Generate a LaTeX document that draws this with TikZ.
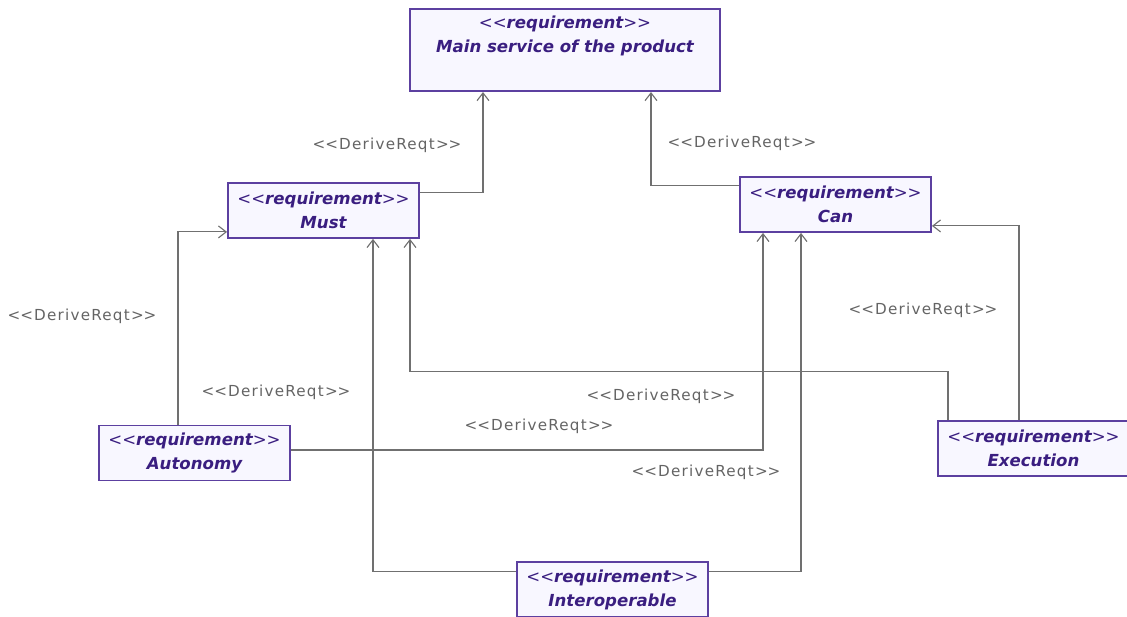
\documentclass[tikz,border=0pt]{standalone}
\usepackage{fontspec}
\usetikzlibrary{arrows.meta}
\newfontfamily\reqfont{DejaVu Sans}
\newfontfamily\lblfont{DejaVu Sans}[LetterSpace=8]
\definecolor{reqborder}{RGB}{92,64,160}
\definecolor{reqfill}{RGB}{248,247,255}
\definecolor{reqtext}{RGB}{58,30,128}
\definecolor{linkgray}{RGB}{112,112,112}
\definecolor{lblgray}{RGB}{100,100,100}
\newcommand{\stereo}{{\mdseries<\kern0pt<}requirement{\mdseries>\kern0pt>}}
\newcommand{\derive}{<\kern0pt<DeriveReqt>\kern0pt>}
\tikzset{
  req/.style={draw=reqborder,line width=1.3pt,fill=reqfill,text=reqtext,
    font=\reqfont\bfseries\itshape\fontsize{11.8}{17}\selectfont,align=center,
    minimum width=4.775cm,minimum height=1.375cm,inner sep=2pt},
  derive/.style={->,draw=linkgray,line width=0.8pt},
  lbl/.style={text=lblgray,font=\lblfont\fontsize{10.8}{12}\selectfont,inner sep=0pt}
}
\begin{document}
\begin{tikzpicture}[x=0.025cm,y=-0.025cm,>={Straight Barb[length=5.5pt,width=8.5pt]}]
  \useasboundingbox (0,0) rectangle (1127,617);
  % requirements
  \node[req,anchor=north,minimum width=7.75cm,inner ysep=5pt,text depth=22.5pt] (main) at (565,8) {\stereo\\Main service of the product};
  \node[req] (must) at (323.5,210.5) {\stereo\\Must};
  \node[req] (can) at (835.5,204.5) {\stereo\\Can};
  \node[req] (autonomy) at (194.5,453) {\stereo\\Autonomy};
  \node[req] (execution) at (1033.5,448.5) {\stereo\\Execution};
  \node[req] (interop) at (612.5,589.5) {\stereo\\Interoperable};
  % derive links
  \draw[derive] ([shift={(0,10)}]must.north east) -| ([shift={(-82,0)}]main.south);
  \draw[derive] ([shift={(0,9)}]can.north west) -| ([shift={(86,0)}]main.south);
  \draw[derive] ([shift={(-16.5,0)}]autonomy.north) |- ([shift={(0,-7)}]must.south west);
  \draw[derive] ([shift={(0,-3)}]autonomy.east) -| ([shift={(-72.5,0)}]can.south);
  \draw[derive] ([shift={(-85.5,0)}]execution.north) -- ++(0,-49) -| ([shift={(86.5,0)}]must.south);
  \draw[derive] ([shift={(-14.5,0)}]execution.north) |- ([shift={(0,-7)}]can.south east);
  \draw[derive] ([shift={(0,10)}]interop.north west) -| ([shift={(49.5,0)}]must.south);
  \draw[derive] ([shift={(0,10)}]interop.north east) -| ([shift={(-34.5,0)}]can.south);
  % labels
  \node[lbl] (lmustmain) at (387,145) {\derive};
  \node[lbl] (lcanmain) at (742,143) {\derive};
  \node[lbl] (lautmust) at (82,316) {\derive};
  \node[lbl] (lintmust) at (276,392) {\derive};
  \node[lbl] (lexemust) at (661,396) {\derive};
  \node[lbl] (lautcan) at (539,426) {\derive};
  \node[lbl] (lintcan) at (706,472) {\derive};
  \node[lbl] (lexecan) at (923,310) {\derive};
\end{tikzpicture}
\end{document}
